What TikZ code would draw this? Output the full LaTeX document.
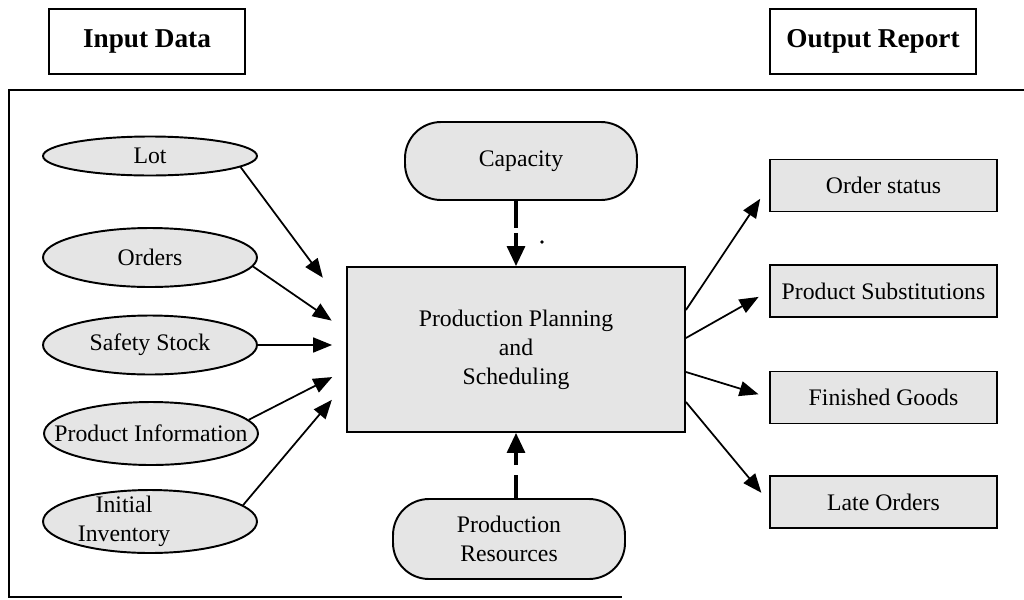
\documentclass[tikz,border=0pt]{standalone}
\usepackage{fontspec}
\setmainfont{Liberation Serif}
\usetikzlibrary{shapes.geometric,arrows.meta}
\newcommand{\zw}[1]{\makebox[0pt]{#1}}
\begin{document}
\begin{tikzpicture}[x=0.02cm,y=-0.02cm,
  every node/.style={font=\fontsize{13.5}{16.5}\selectfont},
  shade/.style={draw, line width=1.1pt, fill=gray!20},
  title/.style={draw, rectangle, line width=1pt, font=\fontsize{15.5}{18}\selectfont\bfseries, minimum height=1.3cm},
  inp/.style={shade, ellipse, minimum width=4.28cm, minimum height=1.18cm, inner sep=0pt},
  res/.style={shade, rectangle, rounded corners=0.72cm, minimum width=4.64cm, align=center},
  outbox/.style={shade, rectangle, minimum width=4.54cm, minimum height=1.04cm},
  arr/.style={-{Triangle[length=0.38cm,width=0.3cm]}, line width=1pt},
  varr/.style={-{Triangle[length=0.4cm,width=0.36cm]}, line width=1.8pt},
]
\useasboundingbox (0,0) rectangle (1024,599);
% frame
\draw[line width=1pt] (1024,90) -- (9,90) -- (9,597) -- (622,597);
% titles
\node[title, minimum width=3.92cm] (tin) at (147,41.5) {Input Data};
\node[title, minimum width=4.12cm] (tout) at (873,41.5) {Output Report};
% inputs
\node[inp, minimum height=0.78cm] (lot) at (150,156) {\zw{Lot}};
\node[inp] (ord) at (150,257.5) {\zw{Orders}};
\node[inp] (ss) at (150,345) {\zw{Safety Stock}};
\node[inp, minimum height=1.26cm] (pi) at (151,433.5) {\zw{Product Information}};
\node[inp, minimum height=1.26cm] (ii) at (150,521.5) {\zw{\kern-1.04cm\raisebox{-3.4pt}[0.2cm][0.2cm]{\begin{tabular}{@{}c@{}}Initial\\Inventory\end{tabular}}}};
% centre
\node[shade, rectangle, minimum width=6.76cm, minimum height=3.3cm, align=center] (main) at (516,349.5) {Production Planning\\and\\Scheduling};
\node[res, minimum height=1.56cm] (cap) at (521,161) {Capacity};
\node[res, minimum height=1.6cm] (prs) at (509,539) {Production\\Resources};
% outputs
\node[outbox] (os) at (883.5,185.5) {Order status};
\node[outbox] (ps) at (883.5,291) {Product Substitutions};
\node[outbox] (fg) at (883.5,397.5) {Finished Goods};
\node[outbox] (lo) at (883.5,502) {Late Orders};
% input arrows
\draw[arr, shorten >=0.78cm] (lot.-7) -- ([yshift=0.81cm]main.west);
\draw[arr, shorten >=0.35cm] (ord.-5) -- ([yshift=0.38cm]main.west);
\draw[arr, shorten >=0.28cm] (ss.east) -- ([yshift=0.09cm]main.west);
\draw[arr, shorten >=0.31cm] (pi.8) -- ([yshift=-0.41cm]main.west);
\draw[arr, shorten >=0.44cm] (ii.10) -- ([yshift=-0.67cm]main.west);
% vertical arrows
\draw[varr, dash pattern=on 0.54cm off 0.1cm on 3cm off 0cm] (main.north |- cap.south) -- (main.north);
\draw[varr, dash pattern=on 0.46cm off 0.2cm on 3cm off 0cm] (main.south |- prs.north) -- (main.south);
\fill (542,242) circle (1.1pt);
% output arrows
\draw[arr, shorten >=0.32cm] ([yshift=0.79cm]main.east) -- (os.west);
\draw[arr, shorten >=0.24cm] ([yshift=0.23cm]main.east) -- (ps.west);
\draw[arr, shorten >=0.22cm] ([yshift=-0.45cm]main.east) -- (fg.west);
\draw[arr, shorten >=0.24cm] ([yshift=-1.05cm]main.east) -- (lo.west);
\end{tikzpicture}
\end{document}
